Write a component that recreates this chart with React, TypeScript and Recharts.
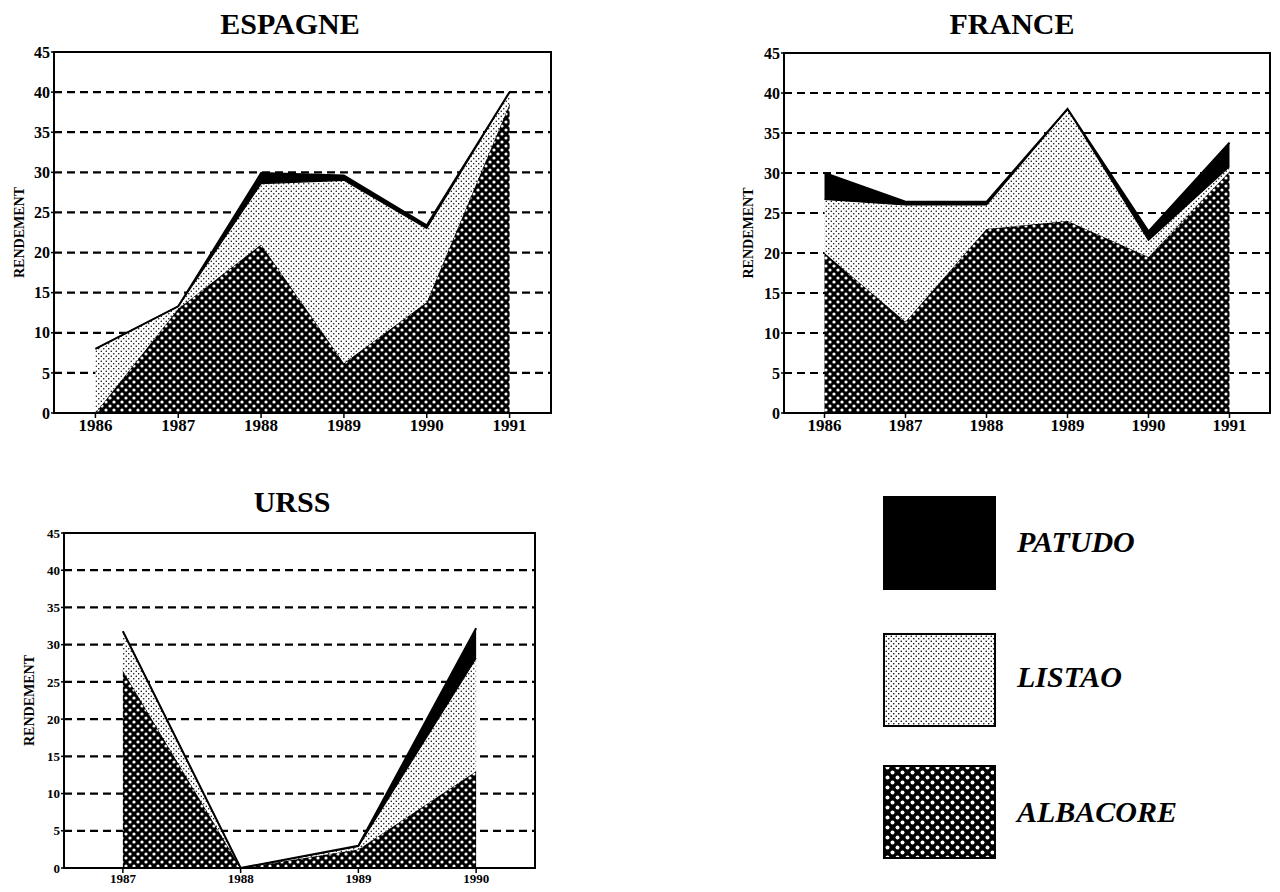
import React from 'react';
import { AreaChart, Area, XAxis, YAxis, CartesianGrid, ReferenceArea } from 'recharts';

// ---- Data ----
const espagneYears = [1986, 1987, 1988, 1989, 1990, 1991];
const espagneAlbacore = [0, 13, 21, 6.2, 13.8, 38.5];
const espagneListao = [8, 0.3, 7.6, 22.8, 9.2, 1.5];
const espagnePatudo = [0, 0, 1.3, 0.6, 0.4, 0];

const franceYears = [1986, 1987, 1988, 1989, 1990, 1991];
const franceAlbacore = [20, 11.4, 23, 24, 19.5, 30.2];
const franceListao = [6.7, 14.6, 3, 14, 2.1, 0.6];
const francePatudo = [3.3, 0.4, 0.4, 0, 1.1, 3];

const urssYears = [1987, 1988, 1989, 1990];
const urssAlbacore = [26.5, 0, 2.5, 13];
const urssListao = [5.3, 0, 0.4, 15.2];
const urssPatudo = [0, 0, 0.1, 4];

const yTicks = [0, 5, 10, 15, 20, 25, 30, 35, 40, 45];
const gridValues = [5, 10, 15, 20, 25, 30, 35, 40];
const seriesNames = ['PATUDO', 'LISTAO', 'ALBACORE'];
const yAxisTitle = 'RENDEMENT';

const FONT = '"Liberation Serif", "Times New Roman", serif';

type Row = { year: number; ALBACORE: number; LISTAO: number; PATUDO: number };

function buildRows(years: number[], alb: number[], lis: number[], pat: number[]): Row[] {
  return years.map((y, i) => ({ year: y, ALBACORE: alb[i], LISTAO: lis[i], PATUDO: pat[i] }));
}

function PatternDefs({ id, alb, lis }: { id: string; alb: number; lis: number }) {
  return (
    <defs>
      <pattern id={`alb-${id}`} width={alb} height={alb} patternUnits="userSpaceOnUse">
        <rect width={alb} height={alb} fill="#000" />
        <circle cx={alb / 4} cy={alb / 4} r={alb * 0.2} fill="#fff" />
        <circle cx={(alb * 3) / 4} cy={(alb * 3) / 4} r={alb * 0.2} fill="#fff" />
      </pattern>
      <pattern id={`lis-${id}`} width={lis} height={lis} patternUnits="userSpaceOnUse">
        <rect width={lis} height={lis} fill="#fff" />
        <circle cx={lis / 4} cy={lis / 4} r={lis * 0.15} fill="#000" />
        <circle cx={(lis * 3) / 4} cy={(lis * 3) / 4} r={lis * 0.15} fill="#000" />
      </pattern>
    </defs>
  );
}

type ChartProps = {
  id: string;
  rows: Row[];
  years: number[];
  width: number;
  height: number;
  margin: { top: number; right: number; left: number; bottom: number };
  yAxisWidth: number;
  xAxisHeight: number;
  tickFont: number;
  yTickFont: number;
  labelOffset: number;
  labelFont: number;
};

function StackChart(p: ChartProps) {
  const domain: [number, number] = [p.years[0] - 0.5, p.years[p.years.length - 1] + 0.5];
  const tickStyle = { fontFamily: FONT, fontWeight: 'bold', fontSize: p.tickFont, fill: '#000' };
  const yTickStyle = { fontFamily: FONT, fontWeight: 'bold', fontSize: p.yTickFont, fill: '#000' };
  return (
    <AreaChart width={p.width} height={p.height} data={p.rows} margin={p.margin}>
      <PatternDefs id={p.id} alb={8} lis={5} />
      <CartesianGrid
        vertical={false}
        horizontalValues={gridValues}
        stroke="#000"
        strokeWidth={2.2}
        strokeDasharray="8 5"
      />
      <XAxis
        type="number"
        dataKey="year"
        domain={domain}
        ticks={p.years}
        interval={0}
        height={p.xAxisHeight}
        tick={tickStyle}
        tickSize={5}
        tickMargin={1}
        axisLine={{ stroke: '#000', strokeWidth: 2 }}
        tickLine={{ stroke: '#000', strokeWidth: 1.5 }}
      />
      <YAxis
        type="number"
        domain={[0, 45]}
        ticks={yTicks}
        interval={0}
        width={p.yAxisWidth}
        tick={yTickStyle}
        tickSize={3}
        tickMargin={1}
        axisLine={{ stroke: '#000', strokeWidth: 2 }}
        tickLine={{ stroke: '#000', strokeWidth: 1.5 }}
        label={{
          value: yAxisTitle,
          angle: -90,
          position: 'insideLeft',
          offset: p.labelOffset,
          style: { textAnchor: 'middle', fontFamily: FONT, fontWeight: 'bold', fontSize: p.labelFont, fill: '#000' },
        }}
      />
      <Area
        type="linear"
        dataKey="ALBACORE"
        stackId="s"
        fill={`url(#alb-${p.id})`}
        fillOpacity={1}
        stroke="#000"
        strokeWidth={1}
        dot={false}
        activeDot={false}
        isAnimationActive={false}
      />
      <Area
        type="linear"
        dataKey="LISTAO"
        stackId="s"
        fill={`url(#lis-${p.id})`}
        fillOpacity={1}
        stroke="#000"
        strokeWidth={1.2}
        dot={false}
        activeDot={false}
        isAnimationActive={false}
      />
      <Area
        type="linear"
        dataKey="PATUDO"
        stackId="s"
        fill="#000"
        fillOpacity={1}
        stroke="#000"
        strokeWidth={2}
        dot={false}
        activeDot={false}
        isAnimationActive={false}
      />
      <ReferenceArea
        x1={domain[0]}
        x2={domain[1]}
        y1={0}
        y2={45}
        fill="none"
        stroke="#000"
        strokeWidth={2}
        ifOverflow="visible"
      />
    </AreaChart>
  );
}

export default function App() {
  const espRows = buildRows(espagneYears, espagneAlbacore, espagneListao, espagnePatudo);
  const fraRows = buildRows(franceYears, franceAlbacore, franceListao, francePatudo);
  const ursRows = buildRows(urssYears, urssAlbacore, urssListao, urssPatudo);
  const legendFills = ['#000', 'url(#lis-legend)', 'url(#alb-legend)'];
  const legendTops = [497, 634, 766];
  const legendTextY = [552, 687, 822];

  return (
    <div style={{ position: 'absolute', left: 0, top: 0, width: 1280, height: 892, background: '#fff' }}>
      <svg width={1280} height={892} style={{ position: 'absolute', left: 0, top: 0 }}>
        <defs>
          <pattern id="alb-legend" width={10} height={10} patternUnits="userSpaceOnUse">
            <rect width={10} height={10} fill="#000" />
            <circle cx={2.5} cy={2.5} r={2} fill="#fff" />
            <circle cx={7.5} cy={7.5} r={2} fill="#fff" />
          </pattern>
          <pattern id="lis-legend" width={5} height={5} patternUnits="userSpaceOnUse">
            <rect width={5} height={5} fill="#fff" />
            <circle cx={1.25} cy={1.25} r={0.8} fill="#000" />
            <circle cx={3.75} cy={3.75} r={0.8} fill="#000" />
          </pattern>
        </defs>
        <text x={290} y={34} textAnchor="middle" fontFamily={FONT} fontWeight="bold" fontSize={30}>ESPAGNE</text>
        <text x={1012} y={34} textAnchor="middle" fontFamily={FONT} fontWeight="bold" fontSize={30}>FRANCE</text>
        <text x={292} y={512} textAnchor="middle" fontFamily={FONT} fontWeight="bold" fontSize={30}>URSS</text>
        {seriesNames.map((name, i) => (
          <g key={name}>
            <rect x={884} y={legendTops[i]} width={111} height={92} fill={legendFills[i]} stroke="#000" strokeWidth={2} />
            <text x={1017} y={legendTextY[i]} fontFamily={FONT} fontStyle="italic" fontWeight="bold" fontSize={30}>{name}</text>
          </g>
        ))}
      </svg>
      <div style={{ position: 'absolute', left: 0, top: 0 }}>
        <StackChart
          id="esp"
          rows={espRows}
          years={espagneYears}
          width={560}
          height={445}
          margin={{ top: 52, right: 9, left: 0, bottom: 0 }}
          yAxisWidth={54}
          xAxisHeight={32}
          tickFont={17}
          yTickFont={16}
          labelOffset={19}
          labelFont={14}
        />
      </div>
      <div style={{ position: 'absolute', left: 720, top: 0 }}>
        <StackChart
          id="fra"
          rows={fraRows}
          years={franceYears}
          width={560}
          height={445}
          margin={{ top: 53, right: 10, left: 0, bottom: 0 }}
          yAxisWidth={64}
          xAxisHeight={32}
          tickFont={17}
          yTickFont={16}
          labelOffset={28}
          labelFont={14}
        />
      </div>
      <div style={{ position: 'absolute', left: 0, top: 500 }}>
        <StackChart
          id="urs"
          rows={ursRows}
          years={urssYears}
          width={560}
          height={392}
          margin={{ top: 33, right: 25, left: 0, bottom: 0 }}
          yAxisWidth={64}
          xAxisHeight={24}
          tickFont={13}
          yTickFont={13}
          labelOffset={29}
          labelFont={14}
        />
      </div>
    </div>
  );
}
